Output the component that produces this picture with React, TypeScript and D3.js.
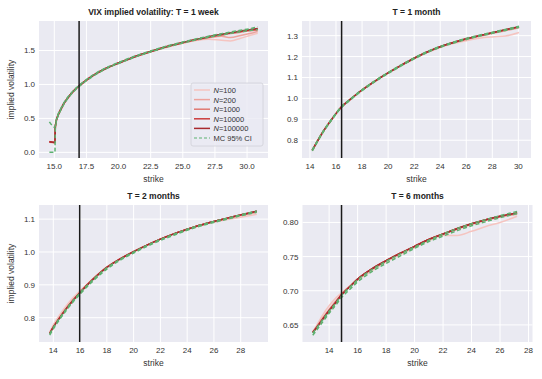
import React from "react";
import * as d3 from "d3";

// ---------- DATA ----------
const titles = ["VIX implied volatility: T = 1 week", "T = 1 month", "T = 2 months", "T = 6 months"];
const seriesNames = ["100", "200", "1000", "10000", "100000"];
const atmStrikes = [16.93, 16.43, 15.97, 14.87];

const xTicks1 = [15, 17.5, 20, 22.5, 25, 27.5, 30];
const yTicks1 = [0, 0.5, 1.0, 1.5];
const xTicks2 = [14, 16, 18, 20, 22, 24, 26, 28, 30];
const yTicks2 = [0.8, 0.9, 1.0, 1.1, 1.2, 1.3];
const xTicks3 = [14, 16, 18, 20, 22, 24, 26, 28];
const yTicks3 = [0.8, 0.9, 1.0, 1.1];
const xTicks4 = [14, 16, 18, 20, 22, 24, 26, 28];
const yTicks4 = [0.65, 0.7, 0.75, 0.8];

// Panel 1: T = 1 week
const strikes1 = [14.62, 15.05, 15.08, 15.15, 15.3, 15.5, 15.75, 16, 16.5, 17, 17.5, 18, 19, 20, 21, 22, 23, 24, 25, 26, 27, 28, 28.7, 29.5, 30.2, 30.83];
const p1N100 = [0.16, 0.14, 0.36, 0.45, 0.54, 0.62, 0.71, 0.785, 0.9, 0.985, 1.06, 1.125, 1.232, 1.31, 1.385, 1.45, 1.505, 1.56, 1.605, 1.645, 1.665, 1.65, 1.64, 1.68, 1.72, 1.755];
const p1N200 = [0.16, 0.145, 0.37, 0.46, 0.55, 0.63, 0.72, 0.79, 0.905, 0.99, 1.065, 1.13, 1.235, 1.315, 1.385, 1.45, 1.51, 1.565, 1.61, 1.65, 1.685, 1.71, 1.69, 1.72, 1.75, 1.78];
const p1N1000 = [0.15, 0.145, 0.37, 0.46, 0.55, 0.63, 0.72, 0.79, 0.905, 0.99, 1.065, 1.13, 1.235, 1.315, 1.39, 1.455, 1.515, 1.57, 1.615, 1.66, 1.695, 1.725, 1.75, 1.77, 1.79, 1.80];
const p1N10000 = [0.155, 0.145, 0.37, 0.46, 0.55, 0.63, 0.72, 0.79, 0.905, 0.99, 1.065, 1.13, 1.235, 1.315, 1.39, 1.455, 1.515, 1.57, 1.617, 1.66, 1.70, 1.735, 1.758, 1.782, 1.80, 1.815];
const p1N100000 = [0.155, 0.145, 0.37, 0.46, 0.55, 0.63, 0.72, 0.79, 0.905, 0.99, 1.065, 1.13, 1.235, 1.315, 1.39, 1.455, 1.515, 1.57, 1.617, 1.662, 1.702, 1.738, 1.762, 1.787, 1.807, 1.825];
const p1Lo = [0.0, 0.0, 0.33, 0.44, 0.535, 0.62, 0.71, 0.78, 0.895, 0.98, 1.055, 1.12, 1.228, 1.308, 1.383, 1.448, 1.508, 1.563, 1.61, 1.654, 1.694, 1.729, 1.752, 1.776, 1.795, 1.81];
const p1Hi = [0.45, 0.37, 0.39, 0.475, 0.56, 0.64, 0.73, 0.80, 0.912, 0.997, 1.072, 1.137, 1.243, 1.323, 1.398, 1.463, 1.523, 1.578, 1.625, 1.67, 1.71, 1.747, 1.772, 1.798, 1.82, 1.85];

// Panel 2: T = 1 month
const strikes2 = [14.18, 14.5, 15, 15.5, 16, 16.43, 17, 18, 19, 20, 21, 22, 23, 24, 25, 26, 27, 28, 29, 30.05];
const p2N100 = [0.754, 0.789, 0.842, 0.886, 0.928, 0.961, 0.992, 1.041, 1.083, 1.122, 1.157, 1.19, 1.219, 1.243, 1.262, 1.276, 1.288, 1.294, 1.298, 1.315];
const p2N200 = [0.753, 0.788, 0.841, 0.886, 0.927, 0.96, 0.991, 1.04, 1.083, 1.122, 1.158, 1.191, 1.221, 1.246, 1.265, 1.282, 1.297, 1.31, 1.323, 1.338];
const p2N1000 = [0.752, 0.787, 0.84, 0.885, 0.927, 0.96, 0.99, 1.04, 1.083, 1.122, 1.158, 1.192, 1.222, 1.247, 1.267, 1.285, 1.30, 1.314, 1.327, 1.341];
const p2N10000 = [0.752, 0.787, 0.84, 0.885, 0.927, 0.96, 0.99, 1.04, 1.083, 1.122, 1.158, 1.192, 1.222, 1.247, 1.267, 1.285, 1.30, 1.314, 1.328, 1.342];
const p2N100000 = [0.752, 0.787, 0.84, 0.885, 0.927, 0.96, 0.99, 1.04, 1.083, 1.122, 1.158, 1.192, 1.222, 1.247, 1.267, 1.285, 1.30, 1.314, 1.328, 1.343];
const p2Lo = [0.749, 0.784, 0.837, 0.882, 0.924, 0.957, 0.987, 1.037, 1.08, 1.119, 1.155, 1.189, 1.219, 1.244, 1.264, 1.282, 1.297, 1.311, 1.325, 1.340];
const p2Hi = [0.754, 0.789, 0.842, 0.887, 0.929, 0.962, 0.992, 1.042, 1.085, 1.124, 1.16, 1.194, 1.224, 1.249, 1.269, 1.287, 1.302, 1.316, 1.330, 1.345];

// Panel 3: T = 2 months
const strikes3 = [13.73, 14, 14.5, 15, 15.5, 16, 17, 18, 19, 20, 21, 22, 23, 24, 25, 26, 27, 28, 29.2];
const p3N100 = [0.756, 0.778, 0.81, 0.838, 0.862, 0.882, 0.921, 0.955, 0.98, 1.002, 1.021, 1.039, 1.055, 1.069, 1.081, 1.091, 1.099, 1.106, 1.115];
const p3N200 = [0.753, 0.772, 0.803, 0.831, 0.856, 0.878, 0.919, 0.954, 0.979, 1.001, 1.021, 1.039, 1.055, 1.069, 1.082, 1.092, 1.102, 1.111, 1.121];
const p3N1000 = [0.752, 0.771, 0.801, 0.829, 0.854, 0.877, 0.918, 0.953, 0.979, 1.001, 1.021, 1.039, 1.055, 1.069, 1.082, 1.093, 1.103, 1.113, 1.123];
const p3N10000 = [0.752, 0.771, 0.801, 0.829, 0.854, 0.877, 0.918, 0.953, 0.979, 1.001, 1.021, 1.039, 1.055, 1.069, 1.082, 1.093, 1.103, 1.113, 1.124];
const p3N100000 = [0.752, 0.771, 0.801, 0.829, 0.854, 0.877, 0.918, 0.953, 0.979, 1.001, 1.021, 1.039, 1.055, 1.069, 1.082, 1.093, 1.103, 1.113, 1.124];
const p3Lo = [0.747, 0.766, 0.796, 0.824, 0.849, 0.872, 0.913, 0.948, 0.975, 0.997, 1.017, 1.035, 1.051, 1.066, 1.079, 1.09, 1.1, 1.11, 1.121];
const p3Hi = [0.751, 0.77, 0.80, 0.828, 0.853, 0.876, 0.917, 0.952, 0.978, 1.0, 1.02, 1.038, 1.054, 1.069, 1.082, 1.093, 1.103, 1.113, 1.125];

// Panel 4: T = 6 months
const strikes4 = [12.85, 13, 13.5, 14, 14.5, 14.87, 15.5, 16, 16.5, 17, 18, 19, 20, 21, 22, 23, 24, 25, 26, 27.2];
const p4N100 = [0.640, 0.645, 0.663, 0.678, 0.690, 0.697, 0.708, 0.716, 0.722, 0.729, 0.742, 0.753, 0.763, 0.773, 0.781, 0.781, 0.787, 0.794, 0.800, 0.809];
const p4N200 = [0.640, 0.644, 0.659, 0.673, 0.686, 0.695, 0.707, 0.717, 0.725, 0.731, 0.744, 0.755, 0.765, 0.775, 0.783, 0.790, 0.797, 0.803, 0.808, 0.812];
const p4N1000 = [0.639, 0.643, 0.657, 0.671, 0.684, 0.694, 0.707, 0.717, 0.725, 0.732, 0.744, 0.755, 0.765, 0.775, 0.783, 0.791, 0.798, 0.804, 0.809, 0.813];
const p4N10000 = [0.639, 0.643, 0.657, 0.671, 0.684, 0.694, 0.707, 0.717, 0.725, 0.732, 0.744, 0.755, 0.765, 0.775, 0.783, 0.791, 0.798, 0.804, 0.809, 0.814];
const p4N100000 = [0.639, 0.643, 0.657, 0.671, 0.684, 0.694, 0.707, 0.717, 0.725, 0.732, 0.744, 0.755, 0.765, 0.775, 0.783, 0.791, 0.798, 0.804, 0.809, 0.814];
const p4Lo = [0.635, 0.639, 0.653, 0.667, 0.680, 0.690, 0.703, 0.713, 0.721, 0.728, 0.740, 0.751, 0.762, 0.772, 0.780, 0.788, 0.795, 0.801, 0.807, 0.813];
const p4Hi = [0.638, 0.642, 0.656, 0.670, 0.683, 0.693, 0.706, 0.716, 0.724, 0.731, 0.743, 0.754, 0.764, 0.774, 0.783, 0.791, 0.798, 0.804, 0.810, 0.816];

// ---------- STYLE ----------
const nColors = ["#f5c4c0", "#eda39d", "#e07870", "#cb3a3c", "#a8292e"];
const ciColor = "#5cb270";
const bg = "#eaeaf2";
const textColor = "#333333";
const font = "'Liberation Sans', Arial, sans-serif";

type Panel = {
  title: string;
  left: number; top: number; width: number; height: number;
  xDomain: [number, number]; yDomain: [number, number];
  xTicks: number[]; yTicks: number[]; xFmt: string; yFmt: string;
  strikes: number[]; ns: number[][]; lo: number[]; hi: number[];
  atm: number; yLabel: boolean; legend: boolean;
};

const panels: Panel[] = [
  { title: titles[0], left: 39, top: 21, width: 229, height: 137, xDomain: [13.81, 31.63], yDomain: [-0.083, 1.934],
    xTicks: xTicks1, yTicks: yTicks1, xFmt: ".1f", yFmt: ".1f", strikes: strikes1,
    ns: [p1N100, p1N200, p1N1000, p1N10000, p1N100000], lo: p1Lo, hi: p1Hi, atm: atmStrikes[0], yLabel: true, legend: true },
  { title: titles[1], left: 302, top: 21, width: 229, height: 137, xDomain: [13.39, 30.97], yDomain: [0.715, 1.37],
    xTicks: xTicks2, yTicks: yTicks2, xFmt: "d", yFmt: ".1f", strikes: strikes2,
    ns: [p2N100, p2N200, p2N1000, p2N10000, p2N100000], lo: p2Lo, hi: p2Hi, atm: atmStrikes[1], yLabel: false, legend: false },
  { title: titles[2], left: 39, top: 205, width: 229, height: 137, xDomain: [12.93, 30.04], yDomain: [0.726, 1.143],
    xTicks: xTicks3, yTicks: yTicks3, xFmt: "d", yFmt: ".1f", strikes: strikes3,
    ns: [p3N100, p3N200, p3N1000, p3N10000, p3N100000], lo: p3Lo, hi: p3Hi, atm: atmStrikes[2], yLabel: true, legend: false },
  { title: titles[3], left: 302.5, top: 205, width: 230, height: 137, xDomain: [12.13, 28.28], yDomain: [0.625, 0.8255],
    xTicks: xTicks4, yTicks: yTicks4, xFmt: "d", yFmt: ".2f", strikes: strikes4,
    ns: [p4N100, p4N200, p4N1000, p4N10000, p4N100000], lo: p4Lo, hi: p4Hi, atm: atmStrikes[3], yLabel: false, legend: false },
];

function PanelView({ p }: { p: Panel }) {
  const x = d3.scaleLinear().domain(p.xDomain).range([p.left, p.left + p.width]);
  const y = d3.scaleLinear().domain(p.yDomain).range([p.top + p.height, p.top]);
  const line = (vals: number[]) =>
    d3.line<number>().x((_, i) => x(p.strikes[i])).y((v) => y(v)).curve(d3.curveMonotoneX)(vals) || "";
  const xf = d3.format(p.xFmt);
  const yf = d3.format(p.yFmt);
  const clipId = "clip-" + p.left + "-" + p.top;
  return (
    <g>
      <defs>
        <clipPath id={clipId}>
          <rect x={p.left} y={p.top} width={p.width} height={p.height} />
        </clipPath>
      </defs>
      <rect x={p.left} y={p.top} width={p.width} height={p.height} fill={bg} />
      {p.xTicks.map((t) => (
        <line key={"gx" + t} x1={x(t)} x2={x(t)} y1={p.top} y2={p.top + p.height} stroke="#fff" strokeWidth={1} />
      ))}
      {p.yTicks.map((t) => (
        <line key={"gy" + t} x1={p.left} x2={p.left + p.width} y1={y(t)} y2={y(t)} stroke="#fff" strokeWidth={1} />
      ))}
      {p.xTicks.map((t) => (
        <text key={"tx" + t} x={x(t)} y={p.top + p.height + 11} textAnchor="middle" fontSize={8} fill={textColor} fontFamily={font}>
          {xf(t)}
        </text>
      ))}
      {p.yTicks.map((t) => (
        <text key={"ty" + t} x={p.left - 4} y={y(t) + 3} textAnchor="end" fontSize={8} fill={textColor} fontFamily={font}>
          {yf(t)}
        </text>
      ))}
      <g clipPath={`url(#${clipId})`}>
        {p.ns.map((vals, i) => (
          <path key={"n" + i} d={line(vals)} fill="none" stroke={nColors[i]} strokeWidth={1.5} />
        ))}
        <path d={line(p.lo)} fill="none" stroke={ciColor} strokeWidth={1.5} strokeDasharray="4,2.5" />
        <path d={line(p.hi)} fill="none" stroke={ciColor} strokeWidth={1.5} strokeDasharray="4,2.5" />
        <line x1={x(p.atm)} x2={x(p.atm)} y1={p.top} y2={p.top + p.height} stroke="#1a1a1a" strokeWidth={1.5} />
      </g>
      <text x={p.left + p.width / 2} y={p.top - 6} textAnchor="middle" fontSize={8.5} fontWeight="bold" fill="#222" fontFamily={font}>
        {p.title}
      </text>
      <text x={p.left + p.width / 2} y={p.top + p.height + 24} textAnchor="middle" fontSize={8.5} fill={textColor} fontFamily={font}>
        strike
      </text>
      {p.yLabel && (
        <text transform={`translate(${p.left - 25},${p.top + p.height / 2}) rotate(-90)`} textAnchor="middle" fontSize={8.5} fill={textColor} fontFamily={font}>
          implied volatility
        </text>
      )}
      {p.legend && <Legend />}
    </g>
  );
}

function Legend() {
  const lx = 191, ly = 83, lw = 72, lh = 63;
  const rowH = 9.6;
  return (
    <g>
      <rect x={lx} y={ly} width={lw} height={lh} fill={bg} fillOpacity={0.8} stroke="#d0d0d8" strokeWidth={0.8} rx={2} />
      {seriesNames.map((n, i) => (
        <g key={n}>
          <line x1={lx + 3} x2={lx + 19} y1={ly + 7 + i * rowH} y2={ly + 7 + i * rowH} stroke={nColors[i]} strokeWidth={1.5} />
          <text x={lx + 22.5} y={ly + 10 + i * rowH} fontSize={7.5} fill={textColor} fontFamily={font}>
            <tspan fontStyle="italic">N</tspan>={n}
          </text>
        </g>
      ))}
      <line x1={lx + 3} x2={lx + 19} y1={ly + 7 + 5 * rowH} y2={ly + 7 + 5 * rowH} stroke={ciColor} strokeWidth={1.2} strokeDasharray="3,2" />
      <text x={lx + 22.5} y={ly + 10 + 5 * rowH} fontSize={7.5} fill={textColor} fontFamily={font}>
        MC 95% CI
      </text>
    </g>
  );
}

export default function App() {
  return (
    <svg width={542} height={379} style={{ position: "absolute", left: 0, top: 0, background: "#fff" }}>
      {panels.map((p, i) => (
        <PanelView key={i} p={p} />
      ))}
    </svg>
  );
}
